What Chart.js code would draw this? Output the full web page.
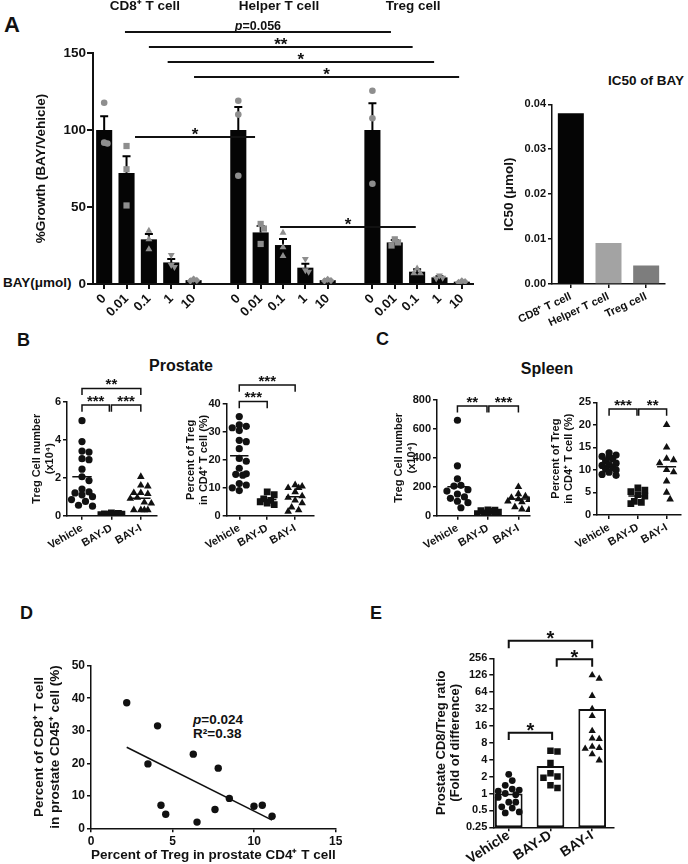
<!DOCTYPE html>
<html>
<head>
<meta charset="utf-8">
<script src="https://cdn.jsdelivr.net/npm/chart.js@4.4.1/dist/chart.umd.min.js"></script>
<style>
  body { margin: 0; background: #fff; }
  #page { position: relative; width: 688px; height: 864px; overflow: hidden; background: #fff;
          font-family: 'Liberation Sans', Arial, sans-serif; font-weight: bold; color: #111; }
  canvas { position: absolute; }
  .t { position: absolute; white-space: nowrap; line-height: 1; }
  .c { transform: translateX(-50%); }
</style>
</head>
<body>
<div id="page">
  <div class="t" style="left:4px;top:14px;font-size:22px">A</div>
  <div class="t" style="left:3px;top:276px;font-size:13.5px">BAY(μmol)</div>
  <div class="t" style="left:608px;top:74px;font-size:13.5px">IC50 of BAY</div>
  <div class="t" style="left:17px;top:331px;font-size:18px">B</div>
  <div class="t c" style="left:181px;top:358px;font-size:16px">Prostate</div>
  <div class="t" style="left:376px;top:330px;font-size:18px">C</div>
  <div class="t c" style="left:547px;top:361px;font-size:16px">Spleen</div>
  <div class="t" style="left:20px;top:604px;font-size:18px">D</div>
  <div class="t" style="left:370px;top:604px;font-size:18px">E</div>
  <div class="t" style="left:193px;top:713px;font-size:13.5px"><i>p</i>=0.024</div>
  <div class="t" style="left:193px;top:726.5px;font-size:13.5px">R²=0.38</div>
  <canvas id="cA"></canvas>
  <canvas id="cIC"></canvas>
  <canvas id="cB1"></canvas>
  <canvas id="cB2"></canvas>
  <canvas id="cC1"></canvas>
  <canvas id="cC2"></canvas>
  <canvas id="cD"></canvas>
  <canvas id="cE"></canvas>
</div>
<script>
const FAM = "'Liberation Sans', Arial, sans-serif";
const INK = '#111';

// ---- A: growth relative to vehicle, per BAY concentration
const concLabels = ['0', '0.01', '0.1', '1', '10'];
const cellTypes = ['CD8⁺ T cell', 'Helper T cell', 'Treg cell'];
const cd8Mean = [100, 72, 29, 14, 2.5];
const cd8Sem = [9, 11, 3.5, 2.3, 0.8];
const cd8Pts = [[117.7, 91.8, 91.2], [89.6, 74.5, 51], [34.6, 29, 22.5], [18.8, 12.3, 11], [3.2, 2.3, 2]];
const helperMean = [100, 33.5, 25.3, 10.6, 2.5];
const helperSem = [15, 4.2, 3.9, 2.6, 0.6];
const helperPts = [[119, 110, 70.3], [39, 36, 26], [33.3, 23.8, 18.2], [16.2, 9, 8], [3, 2.2, 2]];
const tregMean = [100, 27, 8, 4.3, 1.5];
const tregSem = [17.3, 1.5, 1.5, 0.8, 0.4];
const tregPts = [[125.5, 107.6, 65.1], [29, 27, 25], [10, 7, 7], [5.5, 4, 3.5], [2, 1, 1.5]];
// comparisons drawn above the bars (x in bar slots, y in % growth)
const sigA = [
  {a: 0.93, b: 12.83, y: 163.6, label: 'p=0.056'},
  {a: 2.0, b: 13.8, y: 153.9, label: '**'},
  {a: 2.84, b: 14.76, y: 144.2, label: '*'},
  {a: 4.02, b: 15.88, y: 134.4, label: '*'},
  {a: 1.38, b: 6.75, y: 95.5, label: '*'},
  {a: 7.87, b: 13.94, y: 37, label: '*'}
];

// ---- A right: IC50
const ic50Cells = ['CD8⁺ T cell', 'Helper T cell', 'Treg cell'];
const ic50Values = [0.038, 0.0091, 0.0041];

// ---- B / C / E groups
const treatments = ['Vehicle', 'BAY-D', 'BAY-I'];

// B: prostate
const prostNumVeh = [5.0, 3.9, 3.4, 3.35, 3.0, 2.95, 2.45, 2.05, 1.85, 1.4, 1.25, 1.2, 1.1, 1.0, 0.85, 0.75, 0.55, 0.5];
const prostNumBayD = [0.15, 0.12, 0.1, 0.1, 0.08, 0.07, 0.05, 0.04];
const prostNumBayI = [2.05, 1.6, 1.55, 1.2, 1.2, 1.15, 0.95, 0.9, 0.7, 0.65, 0.3, 0.3, 0.3, 0.3];
const prostNumLine = [2.05, 0.1, 0.92];
const prostNumSig = [
  {a: 0, b: 2, y: 6.7, leg: 6.35, label: '**'},
  {a: 0, b: 0.93, y: 5.83, leg: 5.47, label: '***'},
  {a: 1.0, b: 2, y: 5.83, leg: 5.47, label: '***'}
];
const prostPctVeh = [35.5, 32.5, 32, 31.5, 30.5, 27, 26.5, 24, 20.5, 19.5, 17, 15, 14.8, 14.5, 11.5, 11, 10, 9];
const prostPctBayD = [8.5, 7.5, 6, 5.5, 5, 4.5, 4];
const prostPctBayI = [11, 10.5, 10, 10, 8.5, 7, 6.5, 5.5, 4.5, 3, 2, 1.5];
const prostPctLine = [21.5, 5.8, 6.8];
const prostPctSig = [
  {a: 0, b: 2, y: 46.8, leg: 44.4, label: '***'},
  {a: 0, b: 1, y: 40.9, leg: 38.5, label: '***'}
];

// C: spleen
const spleenNumVeh = [660, 345, 255, 210, 205, 180, 170, 150, 130, 120, 100, 90, 55];
const spleenNumBayD = [40, 38, 35, 30, 25, 20, 15, 10, 5];
const spleenNumBayI = [200, 150, 135, 125, 115, 110, 100, 95, 60, 45, 40];
const spleenNumLine = [200, 25, 115];
const spleenNumSig = [
  {a: 0, b: 0.97, y: 759, leg: 713, label: '**'},
  {a: 1.03, b: 2, y: 759, leg: 713, label: '***'}
];
const spleenPctVeh = [13.8, 13.3, 13, 12.8, 12.5, 12, 11.5, 11.2, 11, 10.5, 10.2, 10, 9.5, 9, 8.8];
const spleenPctBayD = [6, 5.5, 5.2, 4.5, 4.2, 3, 2.8, 2.5];
const spleenPctBayI = [20, 15, 12.5, 12.2, 11.5, 10, 9.5, 7.5, 5, 3.5];
const spleenPctLine = [11, 4.2, 10.7];
const spleenPctSig = [
  {a: 0, b: 0.97, y: 23.5, leg: 22, label: '***'},
  {a: 1.03, b: 2, y: 23.5, leg: 22, label: '**'}
];

// D: correlation
const tregPct = [2.19, 4.08, 3.49, 4.29, 4.58, 6.27, 6.5, 7.6, 7.8, 8.48, 9.99, 10.5, 11.1];
const cd8Pct = [38.6, 31.5, 19.8, 7.1, 4.3, 22.8, 1.9, 5.8, 18.5, 9.2, 6.8, 7.1, 3.7];

// E: CD8/Treg ratio (fold)
const ratioTicks = [0.25, 0.5, 1, 2, 4, 8, 16, 32, 64, 128, 256];
const ratioTickLabels = ['0.25', '0.5', '1', '2', '4', '8', '16', '32', '64', '126', '256'];
const ratioBar = [1.0, 3.1, 32];
const ratioVeh = [2.2, 1.7, 1.4, 1.2, 1.15, 1.1, 1.0, 0.95, 0.85, 0.7, 0.7, 0.58, 0.55, 0.47, 0.45];
const ratioBayD = [5.8, 5.6, 3.5, 2.3, 2.0, 1.9, 1.4, 1.25];
const ratioBayI = [128, 111, 55, 32, 24, 13, 9.6, 9.4, 6.8, 6.5, 6.3, 5, 3.9];
const ratioSig = [
  {a: 0, b: 2, y: 526, leg: 385, label: '*'},
  {a: 1.15, b: 2, y: 246, leg: 181, label: '*'},
  {a: 0, b: 1.04, y: 12.1, leg: 9.0, label: '*'}
];

// ---------- helpers
function build(id, box, config) {
  const c = document.getElementById(id);
  const left = Math.round(box.l - box.yW), top = Math.round(box.t - box.padT);
  const W = Math.round(box.r + box.padR - left), H = Math.round(box.b + box.xH - top);
  c.width = W; c.height = H;
  c.style.left = left + 'px'; c.style.top = top + 'px';
  const yW = box.l - left, xH = H - (box.b - top);
  config.options.scales.x.afterFit = s => { s.height = xH; };
  config.options.scales.y.afterFit = s => { s.width = yW; };
  Object.assign(config.options, {
    responsive: false, animation: false, devicePixelRatio: 1, events: [],
    layout: {padding: {top: box.t - top, right: W - (box.r - left), left: 0, bottom: 0}}
  });
  config.options.plugins = Object.assign({legend: {display: false}, tooltip: {enabled: false}}, config.options.plugins || {});
  return new Chart(c, config);
}

function axis(o) {
  const ax = {
    type: o.type || 'linear', min: o.min, max: o.max, offset: false,
    grid: {drawOnChartArea: false, tickLength: o.tickLen || 4, color: INK, lineWidth: o.lw || 1.5, offset: false},
    border: {color: INK, width: o.lw || 1.5},
    ticks: {font: {size: o.size, weight: 'bold'}, color: INK, padding: o.pad == null ? 2 : o.pad, autoSkip: false,
            maxRotation: o.rot || 0, minRotation: o.rot || 0}
  };
  if (o.step) ax.ticks.stepSize = o.step;
  if (o.fmt) ax.ticks.callback = o.fmt;
  if (o.at) ax.afterBuildTicks = s => { s.ticks = o.at.map(v => ({value: v})); };
  if (o.title) ax.title = {display: true, text: o.title, color: INK, padding: 0,
                           font: {size: o.titleSize, weight: 'bold', lineHeight: o.titleLH || 1.2}};
  return ax;
}

// simple beeswarm: horizontal pixel offsets (kept within maxOff) so markers overlap as little as possible
function swarm(vals, pxY, diam, maxOff) {
  const order = vals.map((v, i) => i).sort((a, b) => vals[b] - vals[a]);
  const cands = [0];
  for (let k = 1; k * diam * 0.5 <= maxOff; k++) cands.push(k * diam * 0.5, -k * diam * 0.5);
  const placed = [], off = vals.map(() => 0);
  order.forEach(i => {
    const py = vals[i] * pxY;
    let best = 0, bestD = -1;
    for (const c of cands) {
      const d = placed.length ? Math.min(...placed.map(p => Math.hypot(p.o - c, p.py - py))) : Infinity;
      if (d >= diam) { best = c; break; }
      if (d > bestD) { bestD = d; best = c; }
    }
    placed.push({o: best, py}); off[i] = best;
  });
  return off;
}

function drawLabel(ctx, text, cx, cy, size) {
  ctx.textBaseline = 'alphabetic';
  ctx.textAlign = 'left';
  if (text.startsWith('p=')) {
    const rest = text.slice(1);
    ctx.font = `italic bold ${size}px ${FAM}`;
    const w1 = ctx.measureText('p').width;
    ctx.font = `bold ${size}px ${FAM}`;
    const m = ctx.measureText(rest);
    const base = cy + (m.actualBoundingBoxAscent - m.actualBoundingBoxDescent) / 2;
    const x0 = cx - (w1 + m.width) / 2;
    ctx.font = `italic bold ${size}px ${FAM}`;
    ctx.fillText('p', x0, base);
    ctx.font = `bold ${size}px ${FAM}`;
    ctx.fillText(rest, x0 + w1, base);
  } else {
    ctx.font = `bold ${size}px ${FAM}`;
    const m = ctx.measureText(text);
    const base = cy + (m.actualBoundingBoxAscent - m.actualBoundingBoxDescent) / 2;
    ctx.fillText(text, cx - m.width / 2, base);
  }
}

function sigPlugin(items, o) {
  return {
    id: 'sig',
    afterDatasetsDraw(chart) {
      const {ctx, scales: {x, y}} = chart;
      ctx.save();
      ctx.strokeStyle = INK; ctx.fillStyle = INK; ctx.lineWidth = o.lw;
      items.forEach(it => {
        const x1 = x.getPixelForValue(it.a), x2 = x.getPixelForValue(it.b), yy = y.getPixelForValue(it.y);
        ctx.beginPath();
        if (it.leg != null) {
          const yl = y.getPixelForValue(it.leg);
          ctx.moveTo(x1, yl); ctx.lineTo(x1, yy); ctx.lineTo(x2, yy); ctx.lineTo(x2, yl);
        } else {
          ctx.moveTo(x1, yy); ctx.lineTo(x2, yy);
        }
        ctx.stroke();
        const isP = it.label.startsWith('p=');
        drawLabel(ctx, it.label, (x1 + x2) / 2, yy - (isP ? o.pgap : o.gap), isP ? o.psize : o.size);
      });
      ctx.restore();
    }
  };
}

// ---------- Panel A
const boxA = {l: 93, t: 53, r: 473, b: 284, yW: 60, xH: 34, padT: 53, padR: 6};
const groupMeans = [cd8Mean, helperMean, tregMean];
const groupSem = [cd8Sem, helperSem, tregSem];
const groupPts = [cd8Pts, helperPts, tregPts];
const slotOf = (g, c) => g * 6 + c;
const slots = [];
groupMeans.forEach((m, g) => m.forEach((v, c) => slots.push(slotOf(g, c))));
const pxPerSlotA = (boxA.r - boxA.l) / 17, pxPerPctA = (boxA.b - boxA.t) / 150;

const barA = [];
groupMeans.forEach((m, g) => m.forEach((v, c) => barA.push({x: slotOf(g, c), y: v})));
const shapesA = ['circle', 'rect', 'triangle', 'triangle', 'rectRot'];
const radiiA = [3.3, 4.4, 4, 4, 3.6];
const ptsA = concLabels.map((lab, c) => {
  const data = [];
  groupPts.forEach((gp, g) => {
    const off = swarm(gp[c], pxPerPctA, 6.5, 6);
    gp[c].forEach((v, i) => data.push({x: slotOf(g, c) + off[i] / pxPerSlotA, y: v}));
  });
  return {type: 'scatter', data, order: 1, pointStyle: shapesA[c], pointRotation: c === 3 ? 180 : 0,
          pointRadius: radiiA[c], backgroundColor: '#8e8e8e', borderWidth: 0};
});

const errPlugin = {
  id: 'err',
  afterDatasetDraw(chart, args) {
    if (args.index !== 0) return;
    const {ctx, scales: {x, y}} = chart;
    ctx.save(); ctx.strokeStyle = '#000'; ctx.lineWidth = 2;
    groupMeans.forEach((m, g) => m.forEach((v, c) => {
      const px = x.getPixelForValue(slotOf(g, c));
      const y0 = y.getPixelForValue(v), y1 = y.getPixelForValue(v + groupSem[g][c]);
      ctx.beginPath();
      ctx.moveTo(px, y0); ctx.lineTo(px, y1);
      ctx.moveTo(px - 4, y1); ctx.lineTo(px + 4, y1);
      ctx.stroke();
    }));
    ctx.restore();
  }
};

const chartA = build('cA', boxA, {
  type: 'bar',
  data: {datasets: [{type: 'bar', data: barA, order: 2, backgroundColor: '#050505',
                     barPercentage: 0.72, categoryPercentage: 1}, ...ptsA]},
  options: {
    scales: {
      x: axis({min: -0.5, max: 16.5, at: slots, fmt: v => concLabels[v % 6], size: 13, rot: 45, lw: 2, tickLen: 5}),
      y: axis({min: 0, max: 150, step: 50, size: 13.5, lw: 2, tickLen: 6, pad: 1,
               title: '%Growth (BAY/Vehicle)', titleSize: 13.5})
    }
  },
  plugins: [errPlugin, sigPlugin(sigA, {lw: 2, gap: 5.5, size: 17, pgap: 7, psize: 12.5})]
});

// group headers, centred over each cell type's bars
cellTypes.forEach((name, g) => {
  const d = document.createElement('div');
  d.className = 't c';
  d.style.cssText = `left:${chartA.scales.x.getPixelForValue(slotOf(g, 2)) + 33 - 4}px;top:-1px;font-size:13.5px`;
  d.textContent = name;
  document.getElementById('page').appendChild(d);
});

// ---------- IC50
build('cIC', {l: 552, t: 104.3, r: 665, b: 284, yW: 51, xH: 50, padT: 20, padR: 22}, {
  type: 'bar',
  data: {labels: ic50Cells, datasets: [{data: ic50Values, backgroundColor: ['#050505', '#a3a3a3', '#7d7d7d'],
                                        barPercentage: 0.69, categoryPercentage: 1}]},
  options: {
    scales: {
      x: Object.assign(axis({size: 11, rot: 25}), {type: 'category', offset: true}),
      y: axis({min: 0, max: 0.04, step: 0.01, size: 11, fmt: v => v.toFixed(2),
               title: 'IC50 (μmol)', titleSize: 13.5})
    }
  }
});

// ---------- dot plots
function dotChart(id, box, xr, yr, groups, lines, sig, o) {
  const pxX = (box.r - box.l) / (xr[1] - xr[0]);
  const pxY = (box.b - box.t) / ((o.log ? Math.log2(yr[1]) - Math.log2(yr[0]) : yr[1] - yr[0]));
  const styles = [
    {pointStyle: 'circle', pointRadius: o.r[0]},
    {pointStyle: 'rect', pointRadius: o.r[1]},
    {pointStyle: 'triangle', pointRadius: o.r[2]}
  ];
  const datasets = groups.map((vals, gi) => {
    const off = swarm(o.log ? vals.map(Math.log2) : vals, pxY, o.diam, o.spread * pxX);
    return Object.assign({type: 'scatter', order: 1, backgroundColor: INK, borderWidth: 0,
                          data: vals.map((v, i) => ({x: gi + off[i] / pxX, y: v}))}, styles[gi]);
  });
  if (lines) lines.forEach((m, gi) => datasets.push({
    type: 'line', order: 0, data: [{x: gi - o.half, y: m}, {x: gi + o.half, y: m}],
    borderColor: INK, borderWidth: 1.5, pointRadius: 0
  }));
  if (o.bars) datasets.push({type: 'bar', order: 3, data: o.bars.map((v, i) => ({x: i, y: v})),
    backgroundColor: '#fff', borderColor: INK, borderWidth: 2, borderSkipped: false,
    barPercentage: o.barPct, categoryPercentage: 1});
  const yAx = o.log
    ? axis({type: 'logarithmic', min: yr[0], max: yr[1], at: ratioTicks, fmt: (v, i) => ratioTickLabels[i],
            size: o.tick, title: o.title, titleSize: o.titleSize, titleLH: o.titleLH})
    : axis({min: yr[0], max: yr[1], step: o.step, size: o.tick, title: o.title, titleSize: o.titleSize, titleLH: o.titleLH});
  return build(id, box, {
    type: 'scatter',
    data: {datasets},
    options: {
      scales: {
        x: axis({min: xr[0], max: xr[1], at: [0, 1, 2], fmt: v => treatments[v], size: o.xsize, rot: o.rot, pad: o.xpad}),
        y: yAx
      }
    },
    plugins: [sigPlugin(sig, {lw: o.slw, gap: o.gap, size: o.star})]
  });
}

const dotOpt = {r: [3.6, 4.8, 4.4], diam: 7, half: 0.33, spread: 0.36, tick: 11, xsize: 11, rot: 30, xpad: 2,
                titleSize: 11, titleLH: 1.2, slw: 1.5, gap: 6, star: 15};

dotChart('cB1', {l: 67, t: 401.7, r: 156.7, b: 515.7, yW: 37, xH: 45, padT: 30, padR: 10},
  [-0.51, 2.54], [0, 6], [prostNumVeh, prostNumBayD, prostNumBayI], prostNumLine, prostNumSig,
  Object.assign({}, dotOpt, {step: 2, title: ['Treg Cell number', '(x10⁴)']}));

dotChart('cB2', {l: 226.7, t: 404, r: 313.3, b: 515.7, yW: 42.5, xH: 45, padT: 36, padR: 10},
  [-0.45, 2.65], [0, 40], [prostPctVeh, prostPctBayD, prostPctBayI], prostPctLine, prostPctSig,
  Object.assign({}, dotOpt, {step: 10, title: ['Percent of Treg', 'in CD4⁺ T cell (%)']}));

dotChart('cC1', {l: 437, t: 400, r: 530, b: 515.7, yW: 45, xH: 45, padT: 24, padR: 8},
  [-0.67, 2.38], [0, 800], [spleenNumVeh, spleenNumBayD, spleenNumBayI], spleenNumLine, spleenNumSig,
  Object.assign({}, dotOpt, {step: 200, title: ['Treg Cell number', '(x10⁴)']}));

dotChart('cC2', {l: 597, t: 402.3, r: 681, b: 515, yW: 48, xH: 45, padT: 24, padR: 5},
  [-0.42, 2.5], [0, 25], [spleenPctVeh, spleenPctBayD, spleenPctBayI], spleenPctLine, spleenPctSig,
  Object.assign({}, dotOpt, {step: 5, title: ['Percent of Treg', 'in CD4⁺ T cell (%)']}));

// ---------- D: scatter with least-squares line
const n = tregPct.length;
const mx = tregPct.reduce((s, v) => s + v, 0) / n, my = cd8Pct.reduce((s, v) => s + v, 0) / n;
let sxy = 0, sxx = 0;
tregPct.forEach((v, i) => { sxy += (v - mx) * (cd8Pct[i] - my); sxx += (v - mx) * (v - mx); });
const slope = sxy / sxx, icpt = my - slope * mx;
const xLo = Math.min(...tregPct), xHi = Math.max(...tregPct);

build('cD', {l: 91, t: 665.7, r: 335.7, b: 828.3, yW: 60, xH: 35, padT: 12, padR: 10}, {
  type: 'scatter',
  data: {datasets: [
    {data: tregPct.map((v, i) => ({x: v, y: cd8Pct[i]})), backgroundColor: INK, borderWidth: 0, pointRadius: 3.7, order: 1},
    {type: 'line', data: [{x: xLo, y: slope * xLo + icpt}, {x: xHi, y: slope * xHi + icpt}],
     borderColor: INK, borderWidth: 1.6, pointRadius: 0, order: 2}
  ]},
  options: {
    scales: {
      x: axis({min: 0, max: 15, step: 5, size: 12, title: 'Percent of Treg in prostate CD4⁺ T cell', titleSize: 13.5}),
      y: axis({min: 0, max: 50, step: 10, size: 12, title: ['Percent of CD8⁺ T cell', 'in prostate CD45⁺ cell (%)'], titleSize: 13.5})
    }
  }
});

// ---------- E: bars + dots on log2 axis
dotChart('cE', {l: 493.3, t: 658.3, r: 613.3, b: 827.3, yW: 58.3, xH: 50, padT: 35, padR: 10},
  [-0.37, 2.506], [0.25, 256], [ratioVeh, ratioBayD, ratioBayI], null, ratioSig,
  Object.assign({}, dotOpt, {log: true, bars: ratioBar, barPct: 0.664, r: [3.4, 4.6, 4.2], diam: 7, spread: 0.3,
    tick: 11, xsize: 14, rot: 33, xpad: -4, title: ['Prostate CD8/Treg ratio', '(Fold of difference)'],
    titleSize: 13, titleLH: 1.05, slw: 2, gap: 5.7, star: 20}));
</script>
</body>
</html>
